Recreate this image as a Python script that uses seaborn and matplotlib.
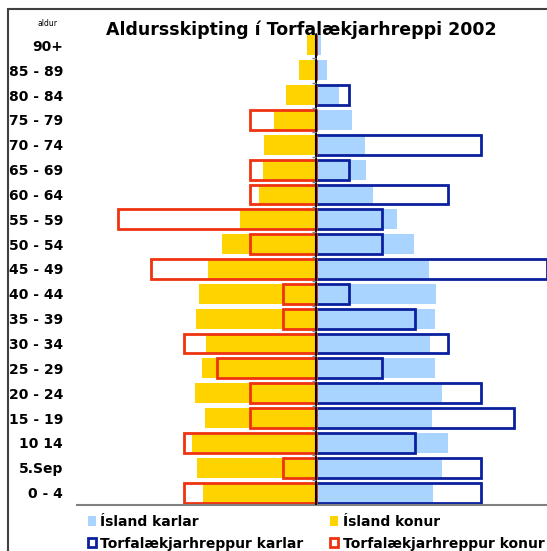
import pandas as pd
import numpy as np
import matplotlib
matplotlib.use('Agg')
import matplotlib.pyplot as plt
import seaborn as sns
from matplotlib.patches import Patch, Rectangle

# aldurshópar, efst til neðst
ALDUR = ['90+', '85 - 89', '80 - 84', '75 - 79', '70 - 74', '65 - 69', '60 - 64',
         '55 - 59', '50 - 54', '45 - 49', '40 - 44', '35 - 39', '30 - 34',
         '25 - 29', '20 - 24', '15 - 19', '10 14', '5.Sep', '0 - 4']

# hlutfall af mannfjölda (%)
ISLAND_KARLAR = [0.16, 0.34, 0.72, 1.13, 1.53, 1.56, 1.78, 2.53, 3.06, 3.53,
                 3.75, 3.72, 3.56, 3.72, 3.94, 3.63, 4.13, 3.94, 3.66]
ISLAND_KONUR = [0.28, 0.53, 0.94, 1.31, 1.63, 1.66, 1.78, 2.38, 2.94, 3.38,
                3.66, 3.75, 3.44, 3.56, 3.78, 3.47, 3.88, 3.72, 3.53]
TORF_KARLAR = [0, 0, 1.03, 0, 5.15, 1.03, 4.12, 2.06, 2.06, 7.22,
               1.03, 3.09, 4.12, 2.06, 5.15, 6.19, 3.09, 5.15, 5.15]
TORF_KONUR = [0, 0, 0, 2.06, 0, 2.06, 2.06, 6.19, 2.06, 5.15,
              1.03, 1.03, 4.12, 3.09, 2.06, 2.06, 4.12, 1.03, 4.12]

GULUR = '#FFD300'
LJOSBLAR = '#A9D4FF'
BLAR = '#0B209E'
RAUDUR = '#EE3311'

df = pd.DataFrame({'aldur': ALDUR, 'is_karlar': ISLAND_KARLAR, 'is_konur': ISLAND_KONUR,
                   'torf_karlar': TORF_KARLAR, 'torf_konur': TORF_KONUR})

sns.set_style('white')
plt.rcParams['font.family'] = ['DejaVu Sans']
plt.rcParams['text.color'] = 'black'
plt.rcParams['ytick.color'] = 'black'
plt.rcParams['ytick.labelcolor'] = 'black'

fig = plt.figure(figsize=(5.47, 5.51), dpi=100)
ax = fig.add_axes([77 / 547, 46 / 551, 478 / 547, 472 / 551])

sns.barplot(x=df['is_karlar'], y=df['aldur'], order=ALDUR, orient='h', color=LJOSBLAR,
            width=0.8, errorbar=None, linewidth=0, saturation=1, ax=ax)
sns.barplot(x=-df['is_konur'], y=df['aldur'], order=ALDUR, orient='h', color=GULUR,
            width=0.8, errorbar=None, linewidth=0, saturation=1, ax=ax)
sns.barplot(x=df['torf_karlar'], y=df['aldur'], order=ALDUR, orient='h', color=BLAR,
            fill=False, width=0.8, errorbar=None, linewidth=2, saturation=1, ax=ax)
sns.barplot(x=-df['torf_konur'], y=df['aldur'], order=ALDUR, orient='h', color=RAUDUR,
            fill=False, width=0.8, errorbar=None, linewidth=2, saturation=1, ax=ax)

ax.set_xlim(-7.47, 7.47)
ax.set_ylim(len(ALDUR) - 0.5, -0.5)
ax.set_xlabel('')
ax.set_ylabel('')
ax.set_xticks([])
ax.tick_params(axis='y', length=0, pad=10, labelcolor='black')
for lbl in ax.get_yticklabels():
    lbl.set_fontweight('bold')
    lbl.set_fontsize(10)
for s in ['left', 'top', 'right']:
    ax.spines[s].set_visible(False)
ax.spines['bottom'].set_color('#808080')
ax.spines['bottom'].set_linewidth(1.5)

# miðlína og smá strik
ax.axvline(0, color='black', lw=1.5, zorder=5)
ax.hlines(np.arange(len(ALDUR) + 1) - 0.5, -0.13, 0, color='#808080', lw=1, zorder=5)

fig.text(301 / 547, 1 - 35 / 551, 'Aldursskipting í Torfalækjarhreppi 2002',
         ha='center', va='baseline', fontsize=12.5, fontweight='bold', color='black')
fig.text(47 / 547, 1 - 24 / 551, 'aldur', ha='center', va='center', fontsize=5.5, color='black')

handles = [Patch(facecolor=LJOSBLAR, edgecolor='none'),
           Patch(facecolor='white', edgecolor=BLAR, lw=2),
           Patch(facecolor=GULUR, edgecolor='none'),
           Patch(facecolor='white', edgecolor=RAUDUR, lw=2)]
labels = ['Ísland karlar', 'Torfalækjarhreppur karlar', 'Ísland konur', 'Torfalækjarhreppur konur']
leg = fig.legend(handles, labels, ncol=2, loc='upper left', bbox_to_anchor=(88 / 547, 1 - 515 / 551),
                 frameon=False, prop={'weight': 'bold', 'size': 10}, handlelength=0.55,
                 handleheight=0.65, handletextpad=0.35, columnspacing=1.9, labelspacing=0.55,
                 borderpad=0, borderaxespad=0)
for t in leg.get_texts():
    t.set_color('black')

fig.patches.append(Rectangle((7.5 / 547, -0.1), 1.2, 1.1 - 9 / 551, transform=fig.transFigure,
                             fill=False, edgecolor='#404040', lw=1.5))

fig.savefig('out.png', dpi=100)
